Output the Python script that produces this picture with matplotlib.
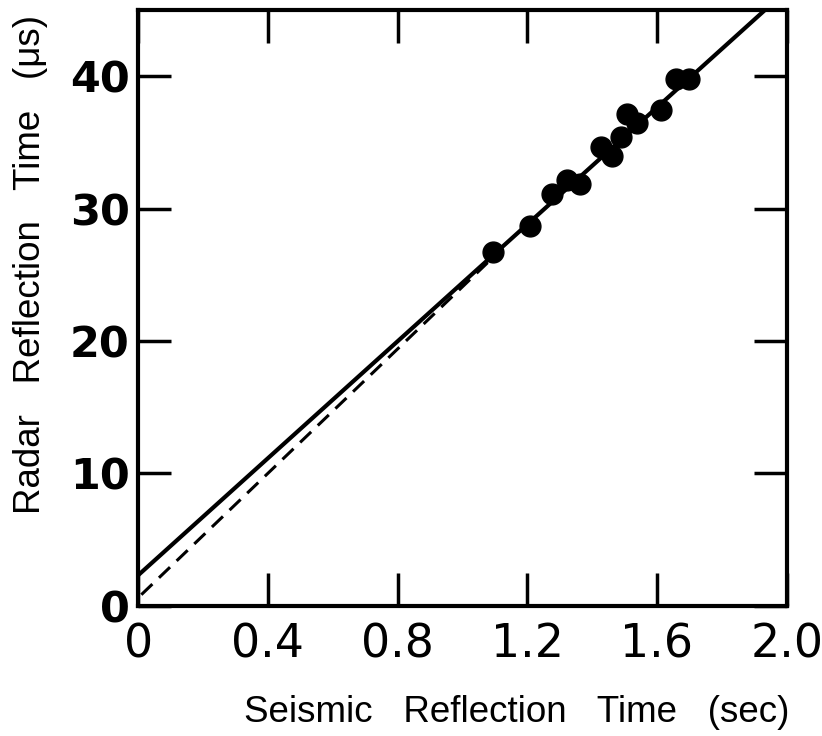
import numpy as np
import matplotlib.pyplot as plt

# seismic vs radar reflection times
seismic_s = [1.095, 1.21, 1.277, 1.324, 1.364, 1.426, 1.46, 1.49, 1.507, 1.538, 1.612, 1.66, 1.70]
radar_us = [26.7, 28.7, 31.1, 32.2, 31.9, 34.7, 34.0, 35.4, 37.2, 36.5, 37.5, 39.8, 39.8]

# fitted lines: intercept (us), slope (us/s)
fit_solid = (2.3, 22.1)
fit_dashed = (0.6, 23.5)
dashed_range = (0.01, 1.1)

x_ticks = [0, 0.4, 0.8, 1.2, 1.6, 2.0]
x_tick_labels = ["0", "0.4", "0.8", "1.2", "1.6", "2.0"]
y_ticks = [0, 10, 20, 30, 40]

fig = plt.figure(figsize=(8.22, 7.36), dpi=100)
ax = fig.add_axes([0.168, 0.177, 0.789, 0.809])

xs = np.array([0, 2.0])
ax.plot(xs, fit_solid[0] + fit_solid[1] * xs, color="black", lw=3, solid_capstyle="butt")
xd = np.array(dashed_range)
ax.plot(xd, fit_dashed[0] + fit_dashed[1] * xd, color="black", lw=2.2, ls=(0, (5, 3)))
ax.plot(seismic_s, radar_us, "o", color="black", ms=15, zorder=3)

ax.set_xlim(0, 2.0)
ax.set_ylim(0, 45)
ax.set_xticks(x_ticks)
ax.set_xticklabels(x_tick_labels)
ax.set_yticks(y_ticks)

for s in ax.spines.values():
    s.set_linewidth(3)
ax.tick_params(direction="in", length=24, width=2.5, top=True, right=True)
ax.tick_params(axis="x", pad=12, labelsize=33)
ax.tick_params(axis="y", pad=6, labelsize=31)
for lab in ax.get_yticklabels():
    lab.set_fontweight("bold")

fig.text(0.629, 0.032, "Seismic   Reflection   Time   (sec)", ha="center", va="center",
         fontsize=26.5, family="Liberation Sans")
fig.text(0.037, 0.64, "Radar   Reflection   Time   (\u03bcs)", ha="center", va="center",
         rotation=90, fontsize=26.5, family="Liberation Sans")

fig.savefig("out.png", dpi=100)
